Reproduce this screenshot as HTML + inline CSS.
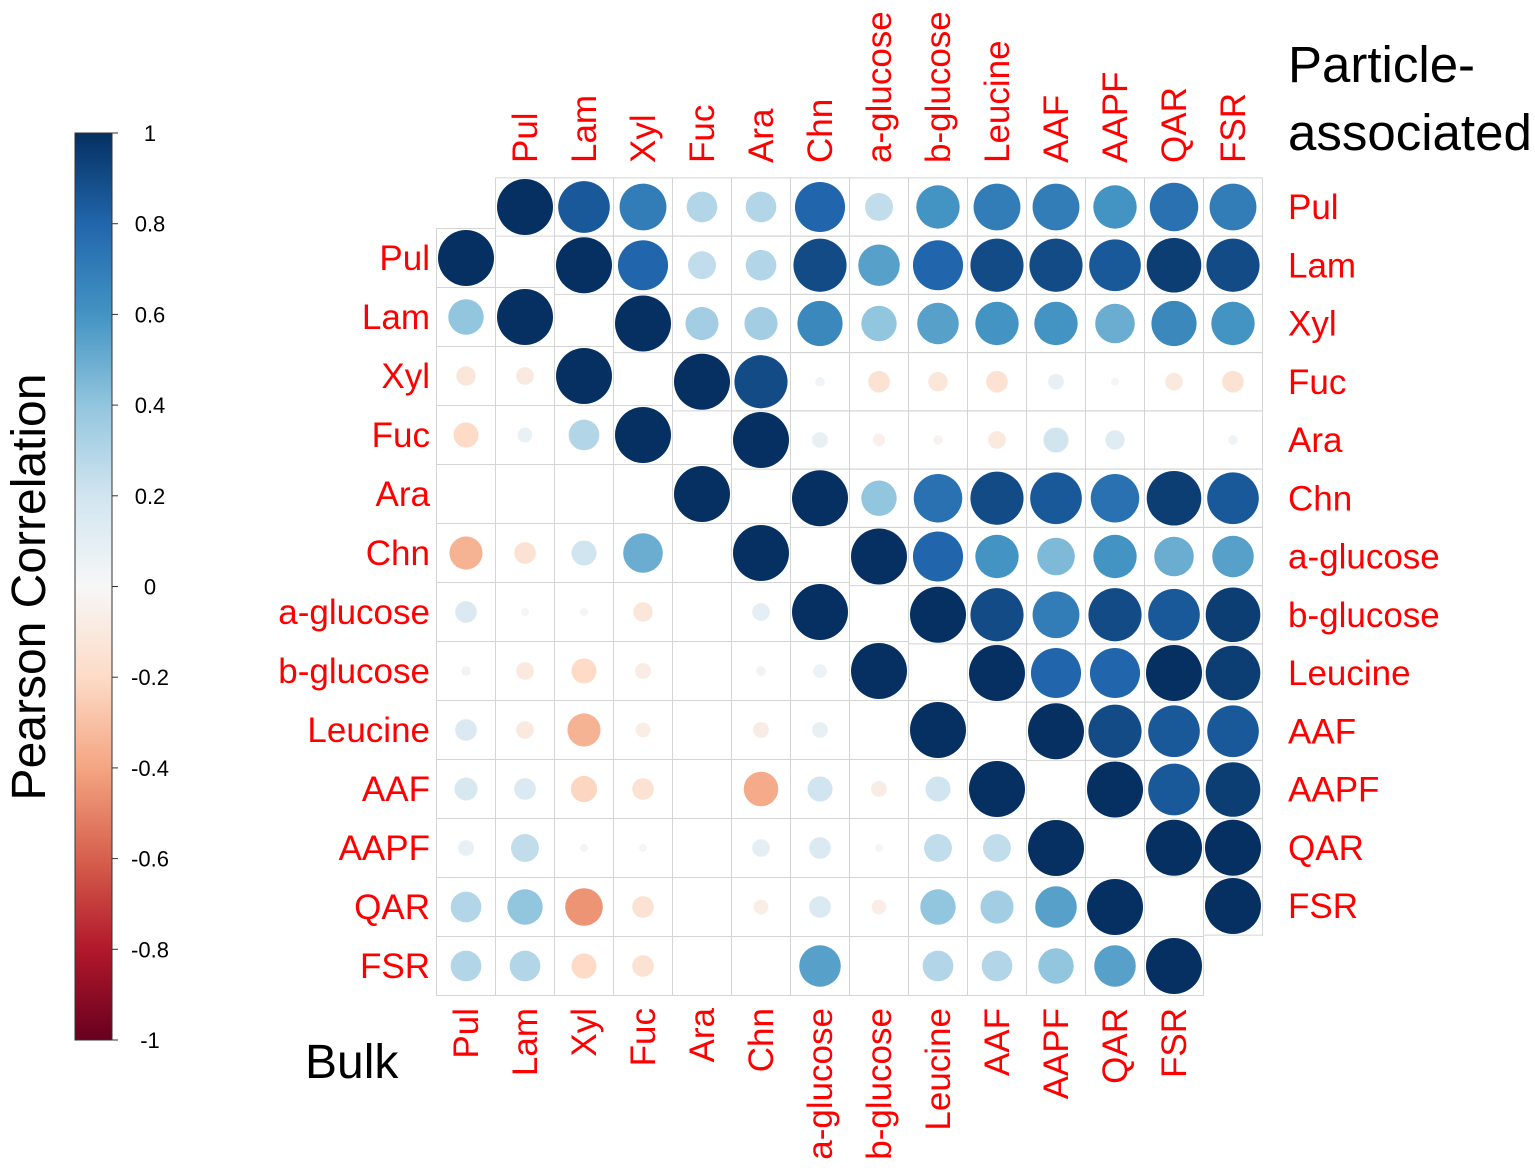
<!DOCTYPE html>
<html><head><meta charset="utf-8"><style>
html,body{margin:0;padding:0;background:#fff;}
svg{display:block;font-family:"Liberation Sans",Arial,sans-serif;}
</style></head><body>
<svg id="chart" width="1535" height="1175" viewBox="0 0 1535 1175" xmlns="http://www.w3.org/2000/svg">
<defs>
<linearGradient id="rdbu" x1="0" y1="0" x2="0" y2="1">
<stop offset="0" stop-color="#053061"/><stop offset="0.1" stop-color="#2166AC"/><stop offset="0.2" stop-color="#4393C3"/><stop offset="0.3" stop-color="#92C5DE"/><stop offset="0.4" stop-color="#D1E5F0"/><stop offset="0.5" stop-color="#F7F7F7"/><stop offset="0.6" stop-color="#FDDBC7"/><stop offset="0.7" stop-color="#F4A582"/><stop offset="0.8" stop-color="#D6604D"/><stop offset="0.9" stop-color="#B2182B"/><stop offset="1" stop-color="#67001F"/>
</linearGradient>
</defs>
<g id="colorbar">
<rect x="75" y="133" width="37" height="907" fill="url(#rdbu)" stroke="#333" stroke-width="1"/>
</g>
<text transform="translate(45,587) rotate(-90)" text-anchor="middle" font-size="48" fill="#000">Pearson Correlation</text>
<text x="1288" y="82" font-size="51" fill="#000">Particle-</text>
<text x="1288" y="150" font-size="51" fill="#000">associated</text>
<text x="305" y="1078" font-size="48" fill="#000">Bulk</text>
<g id="grid"></g>
<g id="marks"></g>
<g id="labels"></g>
</svg>
<script>
const vars = ["Pul","Lam","Xyl","Fuc","Ara","Chn","a-glucose","b-glucose","Leucine","AAF","AAPF","QAR","FSR"];
const cbTicks = [1,0.8,0.6,0.4,0.2,0,-0.2,-0.4,-0.6,-0.8,-1];
const particle = [
[1,0.85,0.7,0.3,0.3,0.8,0.25,0.6,0.7,0.7,0.6,0.75,0.7],
[1,0.8,0.25,0.3,0.9,0.55,0.8,0.9,0.9,0.85,0.95,0.9],
[1,0.35,0.35,0.65,0.4,0.55,0.6,0.6,0.5,0.65,0.6],
[1,0.9,0.03,-0.15,-0.12,-0.15,0.08,0.02,-0.1,-0.15],
[1,0.08,-0.05,-0.03,-0.1,0.2,0.12,0,0.03],
[1,0.4,0.75,0.9,0.85,0.75,0.95,0.85],
[1,0.8,0.6,0.45,0.6,0.5,0.55],
[1,0.9,0.7,0.9,0.85,0.95],
[1,0.8,0.8,1,0.95],
[1,0.9,0.85,0.85],
[1,0.85,0.95],
[1,1],
[1]
];
const bulk = [
[1],
[0.4,1],
[-0.12,-0.1,1],
[-0.2,0.07,0.3,1],
[0,0,0,0,1],
[-0.35,-0.15,0.2,0.5,0,1],
[0.15,0.02,0.02,-0.12,0,0.1,1],
[0.03,-0.1,-0.2,-0.08,0,0.03,0.06,1],
[0.15,-0.1,-0.35,-0.07,0,-0.08,0.08,0,1],
[0.17,0.15,-0.22,-0.15,0,-0.38,0.2,-0.08,0.2,1],
[0.08,0.25,0.02,0.02,0,0.1,0.15,0.02,0.25,0.25,1],
[0.3,0.4,-0.45,-0.15,0,-0.07,0.15,-0.07,0.4,0.35,0.55,1],
[0.3,0.3,-0.2,-0.15,0,0,0.55,0,0.3,0.3,0.4,0.55,1]
];
const NS="http://www.w3.org/2000/svg";
const stops=[[-1,[103,0,31]],[-0.8,[178,24,43]],[-0.6,[214,96,77]],[-0.4,[244,165,130]],[-0.2,[253,219,199]],[0,[247,247,247]],[0.2,[209,229,240]],[0.4,[146,197,222]],[0.6,[67,147,195]],[0.8,[33,102,172]],[1,[5,48,97]]];
function color(v){for(let i=0;i<stops.length-1;i++){const a=stops[i],b=stops[i+1];if(v<=b[0]){const t=(v-a[0])/(b[0]-a[0]);const c=a[1].map((x,k)=>Math.round(x+(b[1][k]-x)*t));return `rgb(${c})`;}}return "rgb(5,48,97)";}
function el(t,attrs,parent){const e=document.createElementNS(NS,t);for(const k in attrs)e.setAttribute(k,attrs[k]);parent.appendChild(e);return e;}
const cw=59, rMax=28;
const pX=c=>525+cw*c, pY=r=>207+58.25*r;
const bX=c=>466+cw*c, bY=r=>258+59*r;
const grid=document.getElementById('grid'), marks=document.getElementById('marks'), labels=document.getElementById('labels');
const cbY=v=>133+(1-v)/2*907;
const cb=document.getElementById('colorbar');
cbTicks.forEach(v=>{
  const l=el('line',{x1:112,x2:118,y1:cbY(v),y2:cbY(v),stroke:'#333'},cb);
  
  
  const t=el('text',{x:150,y:cbY(v)+8,'text-anchor':'middle','font-size':22,fill:'#000'},cb);
  t.textContent=String(v);
  
  
});
function cell(cx,cy,h,v,name){
  const r=el('rect',{x:cx-cw/2,y:cy-h/2,width:cw,height:h,fill:'none',stroke:'#d4d4d4','stroke-width':1},grid);
  
  
  const rad=rMax*Math.sqrt(Math.abs(v));
  if(rad>0.5){const c=el('circle',{cx:cx,cy:cy,r:rad,fill:color(v)},marks);
  
  }
}
particle.forEach((row,i)=>row.forEach((v,k)=>{const j=i+k;cell(pX(j),pY(i),58.25,v,'particle-'+vars[i]+'-'+vars[j]);}));
bulk.forEach((row,i)=>row.forEach((v,j)=>cell(bX(j),bY(i),59,v,'bulk-'+vars[i]+'-'+vars[j])));
vars.forEach((n,i)=>{
  let t=el('text',{transform:`translate(${pX(i)+12},163) rotate(-90)`,'font-size':35,fill:'#f00'},labels);t.textContent=n;
  
  
  t=el('text',{x:1288,y:pY(i)+12,'font-size':35,fill:'#f00'},labels);t.textContent=n;
  
  
  t=el('text',{x:430,y:bY(i)+12,'font-size':35,fill:'#f00','text-anchor':'end'},labels);t.textContent=n;
  
  
  t=el('text',{transform:`translate(${bX(i)+12},1008) rotate(-90)`,'font-size':35,fill:'#f00','text-anchor':'end'},labels);t.textContent=n;
  
  
});
</script>
</body></html>
